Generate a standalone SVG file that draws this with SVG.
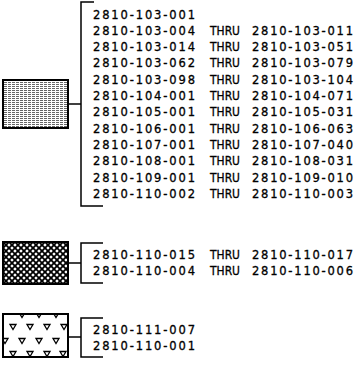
<svg xmlns="http://www.w3.org/2000/svg" xmlns:xlink="http://www.w3.org/1999/xlink" width="363" height="365" viewBox="0 0 363 365">
<style>
.t{font-family:"DejaVu Sans","Liberation Sans",Arial,sans-serif;font-size:11.5px;fill:#000;stroke:#000;stroke-width:0.3}
.ln{stroke:#000;stroke-width:1.5;fill:none}
.bx{stroke:#000;stroke-width:2}
</style>
<defs>
<pattern id="stip" patternUnits="userSpaceOnUse" width="4" height="2">
<rect width="4" height="2" fill="#fff"/>
<rect x="0" y="0" width="3" height="1" fill="#666"/>
</pattern>
<pattern id="hatch" patternUnits="userSpaceOnUse" width="6" height="6" x="3" y="242">
<rect width="6" height="6" fill="#fff"/>
<path d="M0,0L6,6M6,0L0,6" stroke="#000" stroke-width="1.8"/>
</pattern>
<polygon id="tri" points="-3,-2.5 3,-2.5 0,2.5" fill="#fff" stroke="#000" stroke-width="1.3"/>
<clipPath id="c3"><rect x="3" y="314" width="65" height="43"/></clipPath>
</defs>

<g id="box1"><rect class="bx" x="3" y="80" width="65" height="48" fill="url(#stip)"/></g>
<g id="box2"><rect class="bx" x="3" y="242" width="65" height="42" fill="url(#hatch)"/></g>
<g id="box3">
<rect x="3" y="314" width="65" height="43" fill="#fff"/>
<g clip-path="url(#c3)">
<use xlink:href="#tri" x="22" y="315"/><use xlink:href="#tri" x="39" y="315"/><use xlink:href="#tri" x="56" y="315"/>
<use xlink:href="#tri" x="13" y="327"/><use xlink:href="#tri" x="30" y="327"/><use xlink:href="#tri" x="47" y="327"/><use xlink:href="#tri" x="64" y="327"/>
<use xlink:href="#tri" x="5" y="341"/><use xlink:href="#tri" x="22" y="341"/><use xlink:href="#tri" x="39" y="341"/><use xlink:href="#tri" x="56" y="341"/>
<use xlink:href="#tri" x="13" y="354"/><use xlink:href="#tri" x="30" y="354"/><use xlink:href="#tri" x="47" y="354"/><use xlink:href="#tri" x="63" y="354"/>
</g>
<rect class="bx" x="3" y="314" width="65" height="43" fill="none"/>
</g>

<g id="connectors">
<line class="ln" x1="68" y1="104" x2="81" y2="104"/>
<line class="ln" x1="68" y1="263" x2="81" y2="263"/>
<line class="ln" x1="68" y1="337" x2="81" y2="337"/>
</g>

<g id="list1">
<polyline class="ln" points="94,2 81,2 81,206 103,206"/>
<text class="t" x="93" y="18.5" textLength="102" lengthAdjust="spacing">2810-103-001</text>
<text class="t" x="93" y="34.8" textLength="102" lengthAdjust="spacing">2810-103-004</text><text class="t" x="210" y="34.8" textLength="30" lengthAdjust="spacingAndGlyphs">THRU</text><text class="t" x="252" y="34.8" textLength="101" lengthAdjust="spacing">2810-103-011</text>
<text class="t" x="93" y="51.1" textLength="102" lengthAdjust="spacing">2810-103-014</text><text class="t" x="210" y="51.1" textLength="30" lengthAdjust="spacingAndGlyphs">THRU</text><text class="t" x="252" y="51.1" textLength="101" lengthAdjust="spacing">2810-103-051</text>
<text class="t" x="93" y="67.4" textLength="102" lengthAdjust="spacing">2810-103-062</text><text class="t" x="210" y="67.4" textLength="30" lengthAdjust="spacingAndGlyphs">THRU</text><text class="t" x="252" y="67.4" textLength="101" lengthAdjust="spacing">2810-103-079</text>
<text class="t" x="93" y="83.7" textLength="102" lengthAdjust="spacing">2810-103-098</text><text class="t" x="210" y="83.7" textLength="30" lengthAdjust="spacingAndGlyphs">THRU</text><text class="t" x="252" y="83.7" textLength="101" lengthAdjust="spacing">2810-103-104</text>
<text class="t" x="93" y="100" textLength="102" lengthAdjust="spacing">2810-104-001</text><text class="t" x="210" y="100" textLength="30" lengthAdjust="spacingAndGlyphs">THRU</text><text class="t" x="252" y="100" textLength="101" lengthAdjust="spacing">2810-104-071</text>
<text class="t" x="93" y="116.3" textLength="102" lengthAdjust="spacing">2810-105-001</text><text class="t" x="210" y="116.3" textLength="30" lengthAdjust="spacingAndGlyphs">THRU</text><text class="t" x="252" y="116.3" textLength="101" lengthAdjust="spacing">2810-105-031</text>
<text class="t" x="93" y="132.6" textLength="102" lengthAdjust="spacing">2810-106-001</text><text class="t" x="210" y="132.6" textLength="30" lengthAdjust="spacingAndGlyphs">THRU</text><text class="t" x="252" y="132.6" textLength="101" lengthAdjust="spacing">2810-106-063</text>
<text class="t" x="93" y="148.9" textLength="102" lengthAdjust="spacing">2810-107-001</text><text class="t" x="210" y="148.9" textLength="30" lengthAdjust="spacingAndGlyphs">THRU</text><text class="t" x="252" y="148.9" textLength="101" lengthAdjust="spacing">2810-107-040</text>
<text class="t" x="93" y="165.2" textLength="102" lengthAdjust="spacing">2810-108-001</text><text class="t" x="210" y="165.2" textLength="30" lengthAdjust="spacingAndGlyphs">THRU</text><text class="t" x="252" y="165.2" textLength="101" lengthAdjust="spacing">2810-108-031</text>
<text class="t" x="93" y="181.5" textLength="102" lengthAdjust="spacing">2810-109-001</text><text class="t" x="210" y="181.5" textLength="30" lengthAdjust="spacingAndGlyphs">THRU</text><text class="t" x="252" y="181.5" textLength="101" lengthAdjust="spacing">2810-109-010</text>
<text class="t" x="93" y="197.8" textLength="102" lengthAdjust="spacing">2810-110-002</text><text class="t" x="210" y="197.8" textLength="30" lengthAdjust="spacingAndGlyphs">THRU</text><text class="t" x="252" y="197.8" textLength="101" lengthAdjust="spacing">2810-110-003</text>
</g>

<g id="list2">
<polyline class="ln" points="103,243 81,243 81,283 103,283"/>
<text class="t" x="93" y="259" textLength="102" lengthAdjust="spacing">2810-110-015</text><text class="t" x="210" y="259" textLength="30" lengthAdjust="spacingAndGlyphs">THRU</text><text class="t" x="252" y="259" textLength="101" lengthAdjust="spacing">2810-110-017</text>
<text class="t" x="93" y="275" textLength="102" lengthAdjust="spacing">2810-110-004</text><text class="t" x="210" y="275" textLength="30" lengthAdjust="spacingAndGlyphs">THRU</text><text class="t" x="252" y="275" textLength="101" lengthAdjust="spacing">2810-110-006</text>
</g>

<g id="list3">
<polyline class="ln" points="103,318 81,318 81,357 103,357"/>
<text class="t" x="93" y="333.5" textLength="102" lengthAdjust="spacing">2810-111-007</text>
<text class="t" x="93" y="349.5" textLength="102" lengthAdjust="spacing">2810-110-001</text>
</g>
</svg>
